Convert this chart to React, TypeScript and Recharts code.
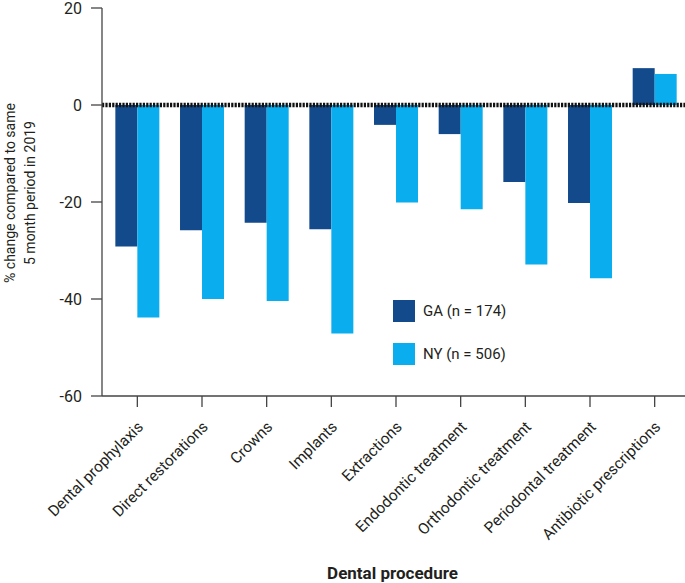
import React from "react"
import { Bar, BarChart, Legend, ReferenceLine, XAxis, YAxis } from "recharts"

const categories = [
  "Dental prophylaxis",
  "Direct restorations",
  "Crowns",
  "Implants",
  "Extractions",
  "Endodontic treatment",
  "Orthodontic treatment",
  "Periodontal treatment",
  "Antibiotic prescriptions",
]
const gaValues = [-29.2, -25.8, -24.3, -25.6, -4.1, -6.0, -15.9, -20.2, 7.6]
const nyValues = [-43.8, -40.0, -40.4, -47.1, -20.1, -21.5, -32.9, -35.7, 6.4]
const yTicks = [20, 0, -20, -40, -60]

const GA_COLOR = "#124a8c"
const NY_COLOR = "#0aaeee"
const FONT = "Roboto, 'Open Sans', sans-serif"
const TEXT = "#231f20"

const data = categories.map((name, i) => ({ name, ga: gaValues[i], ny: nyValues[i] }))

function XTick({ x, y, payload }: any) {
  return (
    <g transform={`translate(${x + 3},${y + 15})`}>
      <text transform="rotate(-45)" textAnchor="end" fontSize={15.5} fill={TEXT} fontFamily={FONT} dy="0.35em">
        {payload.value}
      </text>
    </g>
  )
}

function YLabel({ viewBox }: any) {
  const cy = viewBox.y + viewBox.height / 2 - 9
  return (
    <g fontFamily={FONT} fontSize={14} fill={TEXT}>
      <text transform={`translate(15,${cy}) rotate(-90)`} textAnchor="middle">
        % change compared to same
      </text>
      <text transform={`translate(35,${cy}) rotate(-90)`} textAnchor="middle">
        5 month period in 2019
      </text>
    </g>
  )
}

function XLabel({ viewBox }: any) {
  return (
    <text
      x={viewBox.x + viewBox.width / 2 - 2}
      y={579}
      textAnchor="middle"
      fontFamily={FONT}
      fontSize={17}
      fontWeight="bold"
      fill={TEXT}
    >
      Dental procedure
    </text>
  )
}

function LegendBox() {
  const items = [
    { label: "GA (n = 174)", color: GA_COLOR },
    { label: "NY (n = 506)", color: NY_COLOR },
  ]
  return (
    <div style={{ fontFamily: FONT, fontSize: 15, color: TEXT }}>
      {items.map((it) => (
        <div key={it.label} style={{ display: "flex", alignItems: "center", height: 22, marginBottom: 21 }}>
          <span style={{ width: 22, height: 22, background: it.color, display: "inline-block", marginRight: 8 }} />
          <span>{it.label}</span>
        </div>
      ))}
    </div>
  )
}

export default function App() {
  return (
    <div style={{ position: "absolute", left: 0, top: 0, width: 685, height: 583, overflow: "hidden", background: "#fff" }}>
      <BarChart
        width={687}
        height={583}
        data={data}
        margin={{ top: 8, right: 0, bottom: 0, left: 0 }}
        barCategoryGap="16%"
        barGap={0}
      >
        <XAxis
          dataKey="name"
          interval={0}
          height={187}
          padding={{ left: 3, right: 0 }}
          stroke="#444"
          strokeWidth={1.3}
          tickSize={11}
          tickMargin={2}
          tick={<XTick />}
          label={<XLabel />}
        />
        <YAxis
          domain={[-60, 20]}
          ticks={yTicks}
          interval={0}
          width={102}
          stroke="#444"
          strokeWidth={1.3}
          tickSize={11}
          tickMargin={9}
          tick={{ fontSize: 16, fill: TEXT, fontFamily: FONT }}
          label={<YLabel />}
        />
        <Bar dataKey="ga" name="GA (n = 174)" fill={GA_COLOR} isAnimationActive={false} />
        <Bar dataKey="ny" name="NY (n = 506)" fill={NY_COLOR} isAnimationActive={false} />
        <ReferenceLine y={0} stroke="#111" strokeWidth={4.5} strokeDasharray="2.2 1.2" />
        <Legend
          layout="vertical"
          verticalAlign="middle"
          align="center"
          wrapperStyle={{ position: "absolute", left: 393, top: 300, width: 160 }}
          content={<LegendBox />}
        />
      </BarChart>
    </div>
  )
}
